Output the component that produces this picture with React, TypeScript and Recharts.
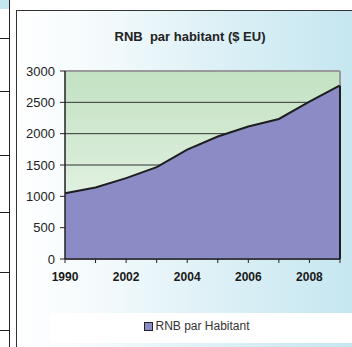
import React from 'react';
import { AreaChart, Area, XAxis, YAxis, CartesianGrid, Legend, ReferenceLine } from 'recharts';

const years = ['1990', '2001', '2002', '2003', '2004', '2005', '2006', '2007', '2008', '2009'];
const rnb = [1050, 1140, 1290, 1465, 1745, 1955, 2115, 2235, 2510, 2770];
const yTicks = [0, 500, 1000, 1500, 2000, 2500, 3000];
const labelledYears = ['1990', '2002', '2004', '2006', '2008'];
const seriesName = 'RNB par Habitant';
const title = 'RNB  par habitant ($ EU)';

const data = years.map((y, i) => ({ year: y, value: rnb[i] }));
const lastYear = years[years.length - 1];
const lastValue = rnb[rnb.length - 1];

const FONT = "'Liberation Sans', Arial, sans-serif";

const XTick = (props: any) => {
  const { x, y, payload } = props;
  if (!labelledYears.includes(payload.value)) return null;
  return (
    <text x={x} y={y + 16} textAnchor="middle" fontSize={12} fontWeight="bold" fill="#1a1a1a" style={{ fontFamily: FONT }}>
      {payload.value}
    </text>
  );
};

const YTick = (props: any) => {
  const { x, y, payload } = props;
  return (
    <text x={x} y={y + 4.5} textAnchor="end" fontSize={13} fill="#222" style={{ fontFamily: FONT }}>
      {payload.value}
    </text>
  );
};

const LegendContent = () => (
  <div style={{ display: 'flex', alignItems: 'center', justifyContent: 'center', fontFamily: FONT, fontSize: 12, color: '#333' }}>
    <span style={{ display: 'inline-block', width: 7, height: 7, background: '#8b8bc6', border: '1px solid #222', marginRight: 2 }} />
    <span>{seriesName}</span>
  </div>
);

const leftLines = [38, 91, 155, 212, 272, 330];

export default function App() {
  return (
    <div style={{ position: 'absolute', left: 0, top: 0, width: 352, height: 347, overflow: 'hidden', background: '#fff', fontFamily: FONT }}>
      <div style={{ position: 'absolute', left: 0, top: 0, width: 9, height: 9, background: '#c5e6f0' }} />
      <div style={{ position: 'absolute', left: 9, top: 0, width: 1, height: 347, background: '#222' }} />
      {leftLines.map((t) => (
        <div key={t} style={{ position: 'absolute', left: 0, top: t, width: 9, height: 1, background: '#222' }} />
      ))}
      <div style={{ position: 'absolute', left: 16, top: 10, width: 340, height: 340, border: '1px solid #333', borderRightWidth: 0, borderBottomWidth: 0, background: 'linear-gradient(to right, #ffffff 0%, #f3fafc 25%, #dcf0f6 60%, #c5e6f0 100%)' }} />
      <div style={{ position: 'absolute', left: 50, top: 313, width: 302, height: 30, background: '#fff' }} />
      <div style={{ position: 'absolute', left: 0, top: 29, width: 380, textAlign: 'center', fontFamily: FONT, fontSize: 13, fontWeight: 'bold', color: '#222', whiteSpace: 'pre' }}>
        {title}
      </div>
      <div style={{ position: 'absolute', left: 0, top: 0 }}>
        <AreaChart width={352} height={347} data={data} margin={{ top: 71, right: 12, bottom: 58, left: 0 }} style={{ fontFamily: FONT }}>
          <defs>
            <linearGradient id="plotBg" x1="0" y1="0" x2="0" y2="1">
              <stop offset="0%" stopColor="#c3e2c3" />
              <stop offset="45%" stopColor="#d6ebd6" />
              <stop offset="100%" stopColor="#f6fbf6" />
            </linearGradient>
          </defs>
          <CartesianGrid vertical={false} stroke="#333" fill="url(#plotBg)" strokeWidth={1} />
          <XAxis
            dataKey="year"
            interval={0}
            height={30}
            tickSize={4}
            axisLine={{ stroke: '#222', strokeWidth: 1.5 }}
            tickLine={{ stroke: '#222' }}
            tick={<XTick />}
          />
          <YAxis
            width={65}
            domain={[0, 3000]}
            ticks={yTicks}
            tickSize={5}
            tickMargin={5}
            axisLine={{ stroke: '#222', strokeWidth: 1.5 }}
            tickLine={{ stroke: '#222' }}
            tick={<YTick />}
          />
          <Area
            type="linear"
            dataKey="value"
            name={seriesName}
            stroke="#1e1e1e"
            strokeWidth={2}
            fill="#8b8bc6"
            fillOpacity={1}
            isAnimationActive={false}
          />
          <ReferenceLine y={3000} stroke="#9a9a9a" strokeWidth={2} />
          <ReferenceLine segment={[{ x: lastYear, y: lastValue }, { x: lastYear, y: 3000 }]} stroke="#9a9a9a" strokeWidth={2} />
          <ReferenceLine segment={[{ x: lastYear, y: 0 }, { x: lastYear, y: lastValue }]} stroke="#1e1e1e" strokeWidth={2} />
          <Legend
            verticalAlign="middle"
            align="center"
            layout="horizontal"
            content={<LegendContent />}
            wrapperStyle={{ position: 'absolute', top: 319, left: 50, width: 294, height: 18 }}
          />
        </AreaChart>
      </div>
    </div>
  );
}
